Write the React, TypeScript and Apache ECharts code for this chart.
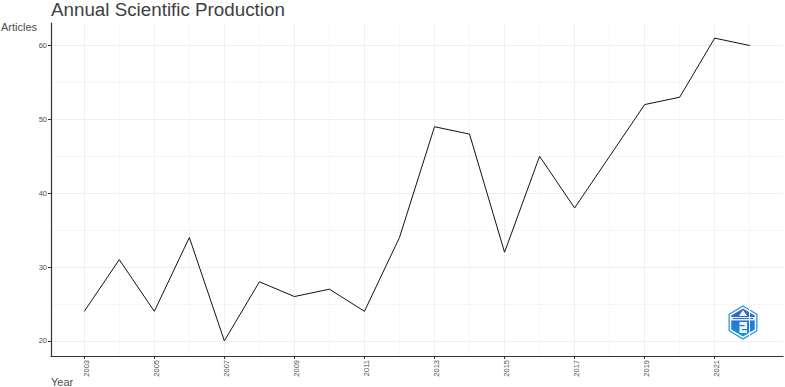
import React, { useEffect, useRef } from "react";
import * as echarts from "echarts";

const years = [2003,2004,2005,2006,2007,2008,2009,2010,2011,2012,2013,2014,2015,2016,2017,2018,2019,2020,2021,2022];
const articles = [24,31,24,34,20,28,26,27,24,34,49,48,32,45,38,45,52,53,61,60];
const majorX = [2003,2005,2007,2009,2011,2013,2015,2017,2019,2021];
const minorX = [2004,2006,2008,2010,2012,2014,2016,2018,2020,2022];
const majorY = [20,30,40,50,60];
const minorY = [25,35,45,55];

const font = "Liberation Sans, Arial, Helvetica, sans-serif";

function logo() {
  const c = [743, 322.5];
  const hex = (r: number) => {
    const pts: number[][] = [];
    for (let i = 0; i < 6; i++) {
      const a = (Math.PI / 3) * i - Math.PI / 2;
      pts.push([c[0] + r * Math.cos(a) * 0.97, c[1] + r * Math.sin(a)]);
    }
    return pts;
  };
  return [
    { type: "polygon", shape: { points: hex(16.5) }, style: { fill: "#fff", stroke: "#1b8fe0", lineWidth: 1.2 } },
    { type: "polygon", shape: { points: hex(14) }, style: { fill: new echarts.graphic.LinearGradient(0, 0, 0, 1, [{ offset: 0, color: "#3d5fb8" }, { offset: 0.5, color: "#2a78cf" }, { offset: 1, color: "#0a94ea" }]) } },
    { type: "polygon", shape: { points: [[743, 310], [739, 316], [747, 316]] }, style: { fill: "#eef6fc" } },
    { type: "rect", shape: { x: 731, y: 317, width: 24, height: 3.5 }, style: { fill: "#dcecf8" } },
    { type: "rect", shape: { x: 733, y: 318, width: 20, height: 1 }, style: { fill: "#3b74c4" } },
    { type: "rect", shape: { x: 739.5, y: 322, width: 7.5, height: 11 }, style: { fill: "#eef6fc" } },
    { type: "rect", shape: { x: 739.5, y: 325, width: 5, height: 1.2 }, style: { fill: "#1878c8" } },
    { type: "rect", shape: { x: 742, y: 329, width: 5, height: 1.2 }, style: { fill: "#1878c8" } },
  ];
}

export default function App() {
  const ref = useRef<HTMLDivElement>(null);
  useEffect(() => {
    const chart = echarts.init(ref.current!, null, { renderer: "svg" });
    const grid = { left: 51, right: 2, top: 23, bottom: 31 };
    const xRange = { min: 2002.05, max: 2022.95 };
    const yRange = { min: 17.95, max: 63.05 };
    chart.setOption({
      animation: false,
      backgroundColor: "#fff",
      grid,
      textStyle: { fontFamily: font },
      xAxis: [
        {
          type: "value", ...xRange,
          axisLine: { show: false, onZero: false },
          axisTick: { show: false, customValues: minorX },
          axisLabel: { show: false, customValues: minorX },
          splitLine: { show: true, lineStyle: { color: "#f6f6f6", width: 1 } },
        },
        {
          type: "value", position: "bottom", ...xRange,
          axisLine: { show: true, onZero: false, lineStyle: { color: "#333", width: 1.2 } },
          axisTick: { show: true, length: 3, lineStyle: { color: "#333" }, customValues: majorX },
          axisLabel: {
            show: true, rotate: 90, fontSize: 7.5, color: "#4d4d4d", margin: 4,
            verticalAlign: "top", lineHeight: 4,
            customValues: majorX, formatter: (v: number) => String(v),
          },
          splitLine: { show: true, lineStyle: { color: "#efefef", width: 1 } },
        },
      ],
      yAxis: [
        {
          type: "value", ...yRange,
          axisLine: { show: false, onZero: false },
          axisTick: { show: false, customValues: minorY },
          axisLabel: { show: false, customValues: minorY },
          splitLine: { show: true, lineStyle: { color: "#f6f6f6", width: 1 } },
        },
        {
          type: "value", position: "left", ...yRange,
          axisLine: { show: true, onZero: false, lineStyle: { color: "#333", width: 1.2 } },
          axisTick: { show: true, length: 3, lineStyle: { color: "#333" }, customValues: majorY },
          axisLabel: { show: true, fontSize: 7.5, color: "#4d4d4d", margin: 4, customValues: majorY },
          splitLine: { show: true, lineStyle: { color: "#efefef", width: 1 } },
        },
      ],
      series: [
        {
          type: "line", xAxisIndex: 1, yAxisIndex: 1,
          data: years.map((y, i) => [y, articles[i]]),
          symbol: "none", lineStyle: { color: "#111", width: 1 },
        },
      ],
      graphic: [
        { type: "text", x: 51, y: 0, style: { text: "Annual Scientific Production", font: `18.8px ${font}`, fill: "#404040" } },
        { type: "text", x: 1, y: 21, style: { text: "Articles", font: `11px ${font}`, fill: "#4d4d4d" } },
        { type: "text", x: 51, y: 376, style: { text: "Year", font: `11px ${font}`, fill: "#4d4d4d" } },
        ...logo(),
      ],
    });
    return () => chart.dispose();
  }, []);
  return <div ref={ref} style={{ position: "fixed", left: 0, top: 0, width: 785, height: 387 }} />;
}
